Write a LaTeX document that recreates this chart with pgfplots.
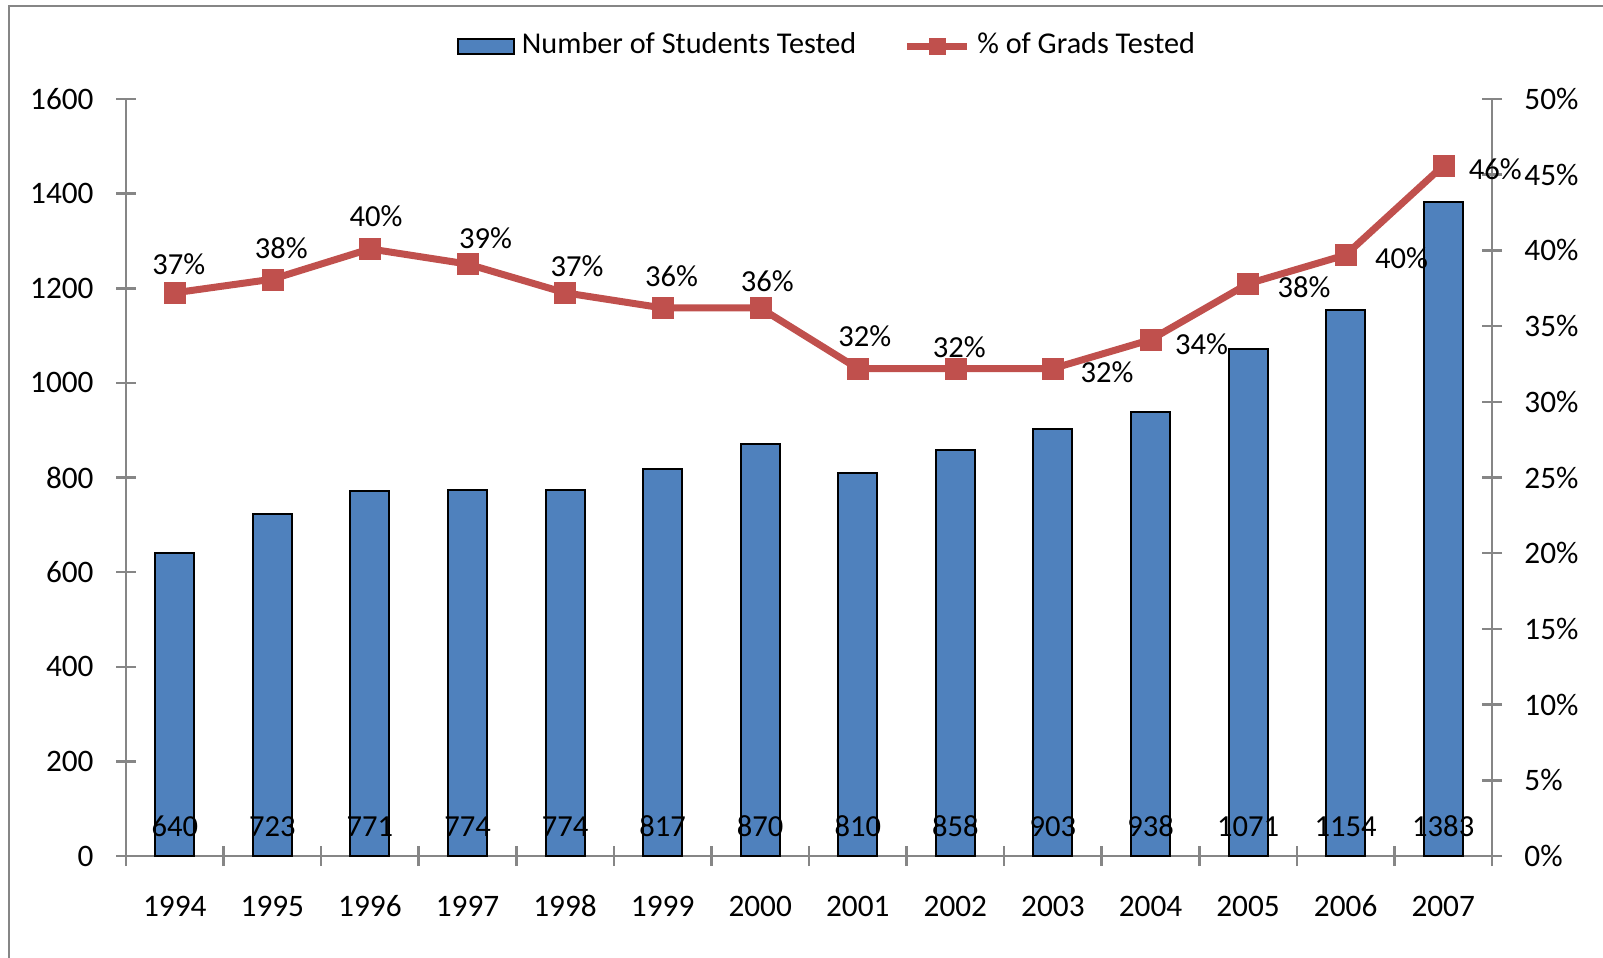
\documentclass[border=0pt]{standalone}
\usepackage{pgfplots}
\pgfplotsset{compat=1.18}
\usepackage{pgfplotstable}
\usepackage{fontspec}
\setmainfont{Carlito}

\definecolor{barblue}{HTML}{4F81BD}
\definecolor{linered}{HTML}{C0504D}
\definecolor{axisgray}{HTML}{868686}

% x: category index, n: students tested, pct: % of grads tested
% dx, dy: label offset of the percentage (mm)
\pgfplotstableread{
x n pct dx dy
0 640 37.2 0.4 3.1
1 723 38.1 0.9 3.3
2 771 40.1 0.6 3.5
3 774 39.1 1.8 2.8
4 774 37.2 1.2 2.9
5 817 36.2 0.9 3.4
6 870 36.2 0.7 2.9
7 810 32.2 0.7 3.5
8 858 32.2 0.4 2.4
9 903 32.2 5.4 -0.1
10 938 34.1 5.1 -0.2
11 1071 37.8 5.6 -0.1
12 1154 39.7 5.6 -0.1
13 1383 45.6 5.2 -0.1
}\datatable

\pgfplotsset{
  every axis/.append style={
    scale only axis, width=136.6mm, height=75.7mm,
    at={(0,0)}, anchor=south west,
    xmin=-0.5, xmax=13.5,
    axis line style={axisgray, line width=0.25mm},
    tick style={axisgray, line width=0.25mm},
    tick align=center, major tick length=2mm, minor tick length=2mm,
    /pgf/number format/1000 sep={},
    /pgf/number format/assume math mode=true,
    tick label style={font=\fontsize{8.9}{10}\selectfont},
  },
  barlegend/.style={legend image code/.code={
    \draw[fill=barblue, draw=black, line width=0.2mm] (0mm,-0.75mm) rectangle (5.6mm,0.75mm);}},
  linelegend/.style={legend image code/.code={
    \draw[##1, mark=none] (0mm,0mm) -- (6mm,0mm);
    \draw[##1, mark size=0.8mm] plot coordinates {(3mm,0mm)};}},
}

\begin{document}
\begin{tikzpicture}[font=\fontsize{8.7}{10}\selectfont]
\useasboundingbox (-12.6mm,-10.1mm) rectangle (147.7mm,85.6mm);
\draw[axisgray, line width=0.2mm] (-11.7mm,-10.2mm) -- (-11.7mm,85mm) -- (147.8mm,85mm);

\begin{axis}[
    axis x line*=bottom, axis y line*=left,
    ymin=0, ymax=1600,
    ytick={0,200,...,1600},
    xtick={0,...,13},
    xticklabels={1994,1995,1996,1997,1998,1999,2000,2001,2002,2003,2004,2005,2006,2007},
    minor xtick={-0.5,0.5,...,13.5},
    major x tick style={draw=none},
    xticklabel style={yshift=-1.3mm, text height=1.5ex, text depth=0pt},
    yticklabel style={xshift=-1mm},
]
\addplot[ybar, bar width=0.4, fill=barblue, draw=black, line width=0.2mm]
    table[x=x, y=n] {\datatable};
% count labels sit at the foot of each bar
\addplot[draw=none, mark=none, point meta=explicit,
    nodes near coords,
    nodes near coords style={anchor=center, yshift=3.2mm, text=black,
        text height=1.5ex, text depth=0pt,
        /pgf/number format/assume math mode=true}]
    table[x=x, y expr=0, meta=n] {\datatable};
\end{axis}

\begin{axis}[
    axis x line=none, axis y line*=right,
    ymin=0, ymax=50,
    ytick={0,5,...,50},
    yticklabel={\pgfmathprintnumber{\tick}\%},
    yticklabel style={xshift=1mm},
    legend columns=2,
    legend style={at={(0.515,1.070)}, anchor=center, draw=none,
        font=\fontsize{8.6}{10}\selectfont,
        /tikz/every even column/.append style={column sep=4mm}},
]
\addlegendimage{barlegend}
\addlegendentry{Number of Students Tested}
\addplot[linered, line width=0.7mm, mark=square*,
    mark options={fill=linered, draw=linered, line width=0.1pt},
    mark size=1.05mm,
    point meta=explicit,
    visualization depends on={\thisrow{dx} \as \dx},
    visualization depends on={\thisrow{dy} \as \dy},
    nodes near coords={\pgfmathprintnumber[fixed,precision=0]{\pgfplotspointmeta}\%},
    nodes near coords style={anchor=center, xshift=\dx mm, yshift=\dy mm, text=black,
        text height=1.5ex, text depth=0pt},
    linelegend]
    table[x=x, y=pct, meta=pct] {\datatable};
\addlegendentry{\% of Grads Tested}
\end{axis}
\end{tikzpicture}
\end{document}
